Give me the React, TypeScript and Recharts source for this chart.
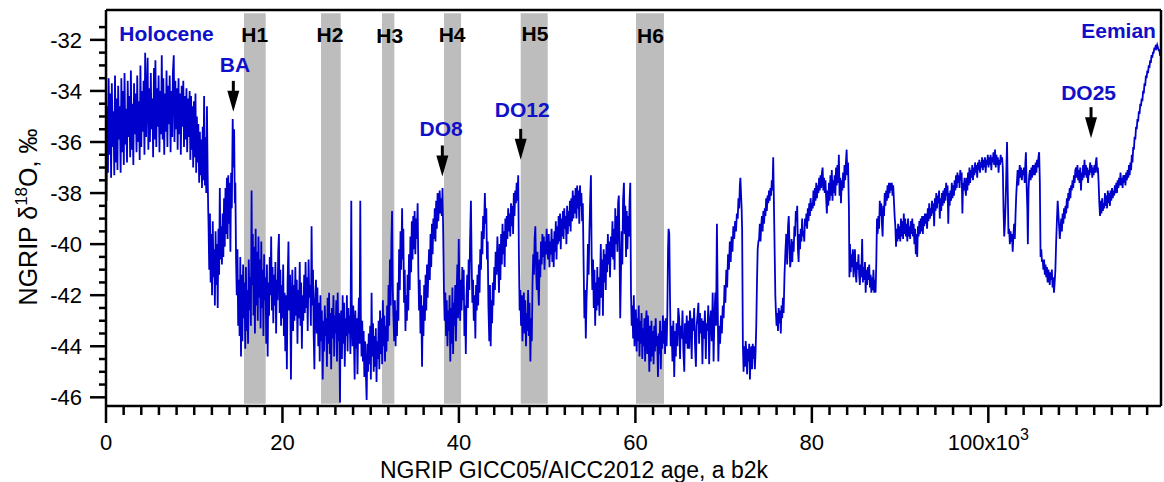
import React from 'react';
import { LineChart, Line, XAxis, YAxis, ReferenceArea, ReferenceLine, ReferenceDot } from 'recharts';

const FONT = '"Liberation Sans", Arial, Helvetica, sans-serif';
const LINE_BLUE = '#0000cc';
const LABEL_BLUE = '#1010c8';

// NGRIP d18O, [age ka b2k, d18O permil]
const holocene: [number, number][] = [
  [0.0, -31.2], [0.06, -38.3], [0.14, -34.6], [0.22, -37.2], [0.3, -33.5], [0.4, -36.5], [0.48, -34.1], [0.58, -37.4],
  [0.66, -33.7], [0.76, -36.2], [0.84, -34.8], [0.94, -37.3], [1.02, -33.4], [1.12, -36.8], [1.2, -34.3], [1.3, -37.1],
  [1.38, -33.8], [1.48, -35.9], [1.56, -34.6], [1.66, -37.2], [1.74, -33.5], [1.84, -36.4], [1.92, -34.0], [2.02, -36.9],
  [2.1, -33.3], [2.2, -36.1], [2.28, -34.7], [2.38, -36.8], [2.46, -33.6], [2.56, -35.8], [2.64, -34.2], [2.74, -36.6],
  [2.82, -33.2], [2.92, -36.3], [3.0, -34.5], [3.1, -36.9], [3.18, -33.7], [3.28, -35.7], [3.36, -34.1], [3.46, -36.4],
  [3.54, -33.4], [3.64, -36.0], [3.72, -34.4], [3.82, -36.7], [3.9, -33.0], [4.0, -36.2], [4.08, -34.0], [4.18, -35.6],
  [4.26, -33.6], [4.36, -36.5], [4.44, -32.5], [4.54, -35.8], [4.62, -34.2], [4.72, -32.7], [4.8, -36.3], [4.9, -33.9],
  [4.98, -36.0], [5.08, -33.3], [5.16, -35.5], [5.26, -34.3], [5.34, -36.6], [5.44, -33.1], [5.52, -35.9], [5.6, -32.8],
  [5.7, -36.2], [5.78, -33.9], [5.88, -35.4], [5.96, -33.4], [6.06, -36.4], [6.14, -34.0], [6.24, -35.7], [6.32, -32.6],
  [6.42, -35.9], [6.5, -33.5], [6.6, -36.5], [6.68, -34.1], [6.78, -35.6], [6.86, -33.2], [6.96, -36.2], [7.04, -33.8],
  [7.14, -35.3], [7.22, -33.4], [7.32, -36.4], [7.4, -34.0], [7.5, -35.8], [7.58, -33.3], [7.68, -32.6], [7.76, -36.0],
  [7.86, -33.6], [7.94, -35.5], [8.04, -33.9], [8.12, -36.3], [8.22, -33.5], [8.3, -35.7], [8.4, -34.1], [8.48, -36.5],
  [8.58, -33.8], [8.66, -35.4], [8.76, -33.6], [8.84, -36.2], [8.94, -34.2], [9.02, -35.9], [9.12, -33.9], [9.2, -36.4],
  [9.3, -34.3], [9.38, -35.8],
];

const deglacial: [number, number][] = [
  [9.48, -34.0], [9.56, -36.7], [9.64, -34.2], [9.72, -36.3], [9.8, -34.6], [9.88, -37.0], [9.96, -34.4], [10.06, -36.6],
  [10.14, -34.1], [10.22, -37.2], [10.3, -35.0], [10.38, -36.8], [10.46, -35.3], [10.56, -37.6], [10.64, -35.6], [10.72, -37.3],
  [10.8, -35.9], [10.88, -37.8], [10.96, -35.4], [11.04, -37.5], [11.12, -34.2], [11.2, -37.7], [11.28, -35.8], [11.36, -38.0],
  [11.44, -34.6], [11.52, -37.2], [11.58, -38.6],
  [11.62, -39.2], [11.7, -41.0], [11.78, -38.8], [11.86, -41.5], [11.94, -39.6], [12.02, -42.0], [12.1, -39.1], [12.18, -41.3],
  [12.26, -40.2], [12.34, -42.4], [12.42, -39.5], [12.5, -41.6], [12.58, -40.0], [12.66, -42.5], [12.74, -39.4], [12.82, -41.2],
  [12.9, -37.8], [12.98, -40.6], [13.06, -39.3], [13.14, -40.8], [13.22, -38.8], [13.3, -40.5], [13.38, -38.2], [13.46, -40.1],
  [13.54, -37.8], [13.62, -39.6], [13.7, -37.4], [13.78, -39.8], [13.86, -37.3], [13.94, -39.2], [14.02, -37.6], [14.1, -40.3],
  [14.18, -37.2], [14.26, -38.6], [14.36, -35.1], [14.44, -37.0], [14.52, -35.5], [14.6, -38.4], [14.66, -37.6], [14.74, -40.6],
  [14.82, -42.0], [14.9, -40.2], [14.98, -43.2], [15.06, -41.4], [15.14, -43.6], [15.22, -40.5], [15.3, -44.4],
];

const mis2: [number, number][] = [
  [15.38, -41.2], [15.46, -43.8], [15.54, -40.8], [15.62, -42.9], [15.7, -41.5], [15.78, -44.1], [15.86, -40.9], [15.94, -43.4],
  [16.02, -41.8], [16.1, -43.9], [16.18, -40.6], [16.26, -42.6], [16.34, -41.3], [16.42, -43.2], [16.5, -37.9], [16.56, -41.6],
  [16.64, -39.6], [16.72, -42.8], [16.8, -40.1], [16.88, -43.5], [16.96, -39.4], [17.04, -42.4], [17.12, -40.3], [17.2, -43.0],
  [17.28, -39.7], [17.36, -42.1], [17.44, -40.6], [17.52, -43.3], [17.6, -39.9], [17.68, -42.5], [17.76, -41.0], [17.84, -43.6],
  [17.92, -40.4], [18.0, -42.2], [18.08, -41.3], [18.16, -43.9], [18.24, -40.8], [18.32, -44.4], [18.4, -41.5], [18.48, -42.8],
  [18.56, -40.5], [18.64, -42.0], [18.72, -39.7], [18.8, -42.6], [18.88, -40.9], [18.96, -43.1], [19.04, -41.2], [19.12, -42.4],
  [19.2, -40.7], [19.28, -43.5], [19.36, -41.4], [19.44, -42.2], [19.52, -40.3], [19.6, -39.6], [19.68, -42.7], [19.76, -41.0],
  [19.84, -43.2], [19.92, -41.6], [20.0, -42.9], [20.08, -40.8], [20.16, -43.6], [20.24, -41.9], [20.32, -44.2],
  [20.4, -42.0], [20.5, -44.9], [20.58, -41.5], [20.68, -39.9], [20.76, -42.6], [20.86, -41.2], [20.96, -45.3], [21.04, -42.3],
  [21.12, -41.0], [21.2, -43.4], [21.28, -41.6], [21.36, -43.0], [21.46, -40.9], [21.54, -42.8], [21.62, -41.4], [21.7, -43.9],
  [21.78, -41.8], [21.86, -42.9], [21.96, -40.7], [22.04, -43.2], [22.12, -41.5], [22.2, -44.1], [22.28, -42.0], [22.36, -43.0],
  [22.46, -41.2], [22.54, -42.7], [22.62, -40.7], [22.7, -42.5], [22.78, -41.3], [22.86, -43.4], [22.96, -40.6], [23.04, -42.1],
  [23.14, -41.6], [23.22, -43.2], [23.3, -39.3], [23.38, -42.4], [23.46, -41.0], [23.54, -43.6], [23.62, -44.9], [23.7, -42.2],
  [23.8, -41.4], [23.88, -43.5], [23.96, -41.7], [24.06, -44.0],
  [24.14, -42.3], [24.22, -44.6], [24.3, -42.0], [24.38, -43.8], [24.46, -42.6], [24.56, -45.3], [24.64, -43.0], [24.72, -44.2],
  [24.8, -42.4], [24.88, -43.6], [24.96, -42.9], [25.04, -44.8], [25.12, -42.1], [25.2, -43.9], [25.28, -41.9], [25.36, -44.3],
  [25.44, -42.7], [25.52, -44.9], [25.6, -42.5], [25.68, -43.7], [25.78, -42.0], [25.86, -44.4], [25.94, -42.8], [26.02, -43.5],
  [26.1, -42.2], [26.18, -44.6], [26.26, -41.9], [26.34, -43.8], [26.42, -42.7], [26.52, -46.2], [26.58, -43.1],
  [26.66, -42.6], [26.74, -44.5], [26.82, -42.0], [26.9, -43.9], [26.98, -42.3], [27.06, -44.8], [27.14, -42.9], [27.22, -43.6],
  [27.3, -42.0], [27.38, -44.2], [27.46, -42.5], [27.54, -43.5], [27.62, -42.8], [27.7, -44.3], [27.8, -38.3], [27.86, -42.7],
  [27.94, -44.0], [28.02, -42.4], [28.1, -43.7], [28.18, -45.3], [28.26, -42.6], [28.34, -44.1], [28.42, -42.9], [28.5, -45.1],
  [28.58, -43.3], [28.66, -42.1], [28.74, -43.9], [28.82, -38.3], [28.88, -42.8], [28.96, -44.4], [29.04, -43.0],
];

const mis3Late: [number, number][] = [
  [29.12, -44.6], [29.2, -43.4], [29.28, -45.2], [29.36, -43.8], [29.44, -44.9], [29.54, -46.1], [29.62, -43.9], [29.7, -45.0],
  [29.78, -43.5], [29.86, -44.7], [29.94, -43.2], [30.02, -45.3], [30.1, -41.9], [30.18, -44.4], [30.26, -43.1], [30.34, -45.0],
  [30.42, -43.6], [30.5, -44.8], [30.58, -43.3], [30.66, -45.4], [30.74, -43.8], [30.82, -44.5], [30.9, -43.0], [30.98, -44.9],
  [31.06, -42.6], [31.14, -44.3], [31.22, -42.9], [31.3, -44.7], [31.38, -42.2],
  [31.46, -44.0], [31.54, -42.8], [31.62, -44.6], [31.7, -43.2], [31.78, -44.2], [31.86, -42.4], [31.94, -43.8], [32.02, -41.6],
  [32.1, -43.2], [32.18, -40.6], [32.26, -42.4], [32.34, -40.0], [32.42, -38.7], [32.5, -41.8], [32.58, -42.9], [32.66, -43.8],
  [32.74, -42.2], [32.82, -44.0], [32.9, -42.6], [32.98, -43.6], [33.06, -41.5], [33.14, -43.0], [33.22, -40.2], [33.3, -41.8],
  [33.38, -39.5], [33.46, -41.0], [33.56, -38.6], [33.62, -40.6], [33.7, -39.4], [33.78, -42.3], [33.86, -41.0], [33.94, -43.4],
  [34.02, -42.0], [34.1, -43.0], [34.18, -41.2], [34.26, -42.6], [34.34, -40.4], [34.42, -41.8], [34.5, -39.7], [34.58, -41.1],
  [34.66, -39.1], [34.74, -40.6], [34.82, -38.9], [34.9, -40.2], [34.98, -38.7], [35.06, -40.4], [35.14, -39.0], [35.22, -39.8],
  [35.32, -38.4],
  [35.4, -41.0], [35.48, -42.6], [35.56, -41.4], [35.64, -43.5], [35.72, -42.0], [35.82, -44.8], [35.9, -42.4], [35.98, -43.6],
  [36.06, -41.6], [36.14, -43.0], [36.22, -41.2], [36.3, -42.6], [36.38, -40.8], [36.46, -42.1], [36.54, -41.0], [36.62, -40.2],
  [36.7, -41.4], [36.78, -39.6], [36.86, -40.9], [36.94, -39.2], [37.02, -40.4], [37.1, -39.0], [37.18, -39.8], [37.26, -38.6],
  [37.34, -39.9], [37.42, -38.3], [37.5, -39.4], [37.58, -38.0], [37.66, -39.1], [37.74, -38.4], [37.82, -37.9], [37.9, -38.8],
  [37.98, -38.2], [38.06, -38.9], [38.14, -37.8],
  [38.22, -39.6], [38.3, -41.8], [38.38, -43.0], [38.46, -41.9], [38.54, -43.6], [38.62, -42.2], [38.7, -44.0], [38.78, -42.6],
  [38.86, -43.4], [38.94, -42.0], [39.02, -44.6], [39.1, -42.5], [39.18, -43.9], [39.26, -41.7], [39.34, -44.3], [39.42, -42.3],
  [39.5, -43.2], [39.58, -41.6], [39.66, -43.8], [39.74, -42.0], [39.82, -40.8], [39.9, -42.9], [39.98, -39.8], [40.06, -41.9],
  [40.14, -43.0], [40.22, -41.4], [40.3, -42.6], [40.38, -40.9], [40.46, -42.2], [40.54, -41.0], [40.62, -43.6], [40.7, -42.4],
  [40.78, -44.3],
];

const mis3Mid: [number, number][] = [
  [40.86, -42.0], [40.94, -41.2], [41.02, -42.5], [41.1, -40.6], [41.18, -41.8], [41.26, -39.9], [41.36, -38.3], [41.44, -40.7],
  [41.52, -42.3], [41.6, -41.4], [41.68, -43.0], [41.78, -42.0], [41.86, -43.7], [41.94, -41.6], [42.02, -42.6], [42.1, -41.2],
  [42.18, -42.4], [42.26, -40.8], [42.34, -41.9], [42.42, -40.2], [42.5, -41.0], [42.58, -39.5], [42.66, -40.4], [42.74, -38.9],
  [42.82, -39.8], [42.94, -38.0], [43.02, -39.2], [43.1, -38.6], [43.18, -40.6], [43.26, -39.9], [43.34, -42.4], [43.44, -43.8],
  [43.52, -41.6], [43.6, -44.0], [43.68, -42.2], [43.76, -43.1], [43.84, -41.5], [43.92, -42.4], [44.0, -40.9], [44.08, -41.8],
  [44.16, -40.3], [44.26, -41.2], [44.36, -39.7], [44.46, -40.8],
  [44.54, -41.9], [44.62, -40.0], [44.7, -41.4], [44.78, -39.6], [44.86, -40.8], [44.94, -39.2], [45.02, -40.4], [45.1, -39.5],
  [45.18, -40.9], [45.26, -39.0], [45.34, -40.1], [45.42, -38.9], [45.5, -39.8], [45.58, -38.6], [45.66, -39.5], [45.74, -38.8],
  [45.82, -39.7], [45.9, -38.4], [45.98, -39.3], [46.06, -38.5], [46.14, -39.6], [46.22, -38.0], [46.3, -38.9], [46.38, -37.9],
  [46.46, -38.4], [46.54, -37.6], [46.62, -38.3], [46.72, -37.3],
  [46.8, -40.5], [46.88, -42.6], [46.96, -41.8], [47.04, -43.2], [47.12, -42.0], [47.2, -43.8], [47.28, -42.4], [47.36, -41.9],
  [47.44, -43.5], [47.52, -42.2], [47.6, -44.0], [47.68, -42.7], [47.76, -43.4], [47.84, -41.8], [47.92, -43.6], [48.0, -42.3],
  [48.1, -44.6], [48.18, -42.9], [48.26, -43.8], [48.34, -41.5], [48.42, -40.4], [48.5, -41.2], [48.58, -39.8], [48.66, -39.3],
  [48.74, -40.9], [48.82, -41.8], [48.9, -40.3], [48.98, -41.6], [49.06, -42.4], [49.14, -40.6], [49.22, -41.3], [49.3, -39.9],
  [49.38, -40.8], [49.46, -39.6], [49.54, -40.5], [49.62, -39.7], [49.7, -41.0], [49.78, -39.9], [49.86, -40.4], [49.94, -39.4],
  [50.02, -40.2],
];

const mis3Early: [number, number][] = [
  [50.1, -40.6], [50.18, -39.6], [50.26, -40.9], [50.34, -39.9], [50.42, -40.4], [50.5, -39.4], [50.58, -40.7], [50.66, -39.8],
  [50.74, -40.9], [50.82, -39.5], [50.9, -40.3], [50.98, -39.1], [51.06, -40.6], [51.14, -39.3], [51.22, -40.0], [51.3, -38.9],
  [51.38, -39.9], [51.46, -38.8], [51.54, -40.2], [51.62, -39.0], [51.7, -39.7], [51.78, -38.7], [51.86, -39.8], [51.94, -38.6],
  [52.02, -39.4], [52.1, -38.9], [52.18, -40.0], [52.26, -38.5], [52.34, -39.6], [52.42, -38.7], [52.5, -39.3], [52.58, -38.3],
  [52.66, -39.5], [52.74, -38.2], [52.82, -39.1], [52.9, -37.9], [52.98, -39.0], [53.06, -38.1], [53.14, -38.8], [53.22, -37.8],
  [53.32, -39.0], [53.4, -37.7], [53.48, -38.6], [53.56, -37.9], [53.64, -39.2], [53.72, -37.7], [53.8, -38.5], [53.88, -38.0],
  [53.96, -39.1], [54.04, -38.4],
  [54.14, -41.0], [54.22, -42.9], [54.3, -41.8], [54.38, -43.7], [54.46, -42.2], [54.54, -41.4], [54.62, -40.0], [54.7, -41.2],
  [54.78, -39.6], [54.88, -38.2], [54.96, -37.3], [55.04, -40.4], [55.12, -41.8], [55.2, -40.6], [55.28, -42.5], [55.36, -41.0],
  [55.44, -43.2], [55.52, -41.5], [55.6, -42.6], [55.68, -40.9], [55.76, -42.4], [55.84, -41.3], [55.92, -42.8],
  [56.0, -41.4], [56.08, -40.0], [56.16, -42.1], [56.24, -40.6], [56.32, -42.8], [56.4, -40.2], [56.48, -41.5], [56.56, -40.4],
  [56.64, -41.8], [56.72, -40.0], [56.8, -41.1], [56.88, -39.6], [56.96, -40.8], [57.04, -39.9], [57.12, -41.3], [57.22, -39.7],
  [57.3, -40.5], [57.4, -39.1], [57.48, -40.6], [57.56, -39.4], [57.64, -41.0], [57.72, -38.6], [57.8, -40.0], [57.88, -38.9],
  [57.96, -40.3], [58.04, -38.4], [58.12, -38.1], [58.2, -40.2], [58.28, -42.9], [58.36, -41.2], [58.44, -39.5], [58.52, -40.8],
  [58.6, -38.3], [58.7, -37.6], [58.78, -39.6], [58.86, -38.5], [58.94, -40.5], [59.02, -38.7], [59.1, -40.2], [59.18, -38.9],
  [59.26, -39.7], [59.34, -38.3], [59.42, -37.6], [59.5, -41.9], [59.58, -43.2], [59.66, -42.4], [59.74, -43.7], [59.82, -42.0],
  [59.9, -44.0], [59.98, -42.6],
];

const mis4: [number, number][] = [
  [60.06, -42.6], [60.14, -44.2], [60.22, -42.9], [60.3, -43.8], [60.38, -42.4], [60.46, -44.4], [60.54, -43.0], [60.62, -43.9],
  [60.7, -42.7], [60.78, -44.5], [60.86, -43.3], [60.94, -44.0], [61.02, -42.9], [61.1, -44.6], [61.18, -43.1], [61.26, -42.6],
  [61.34, -44.3], [61.42, -42.8], [61.5, -43.8], [61.58, -45.0], [61.66, -43.2], [61.74, -44.6], [61.82, -43.0], [61.9, -44.4],
  [61.98, -43.4], [62.06, -44.7], [62.14, -43.2], [62.22, -44.2], [62.3, -42.9], [62.38, -44.0], [62.46, -43.6], [62.56, -45.2],
  [62.64, -43.5], [62.72, -44.3], [62.8, -43.0], [62.88, -44.9], [62.96, -43.4], [63.04, -44.1], [63.12, -42.8], [63.2, -43.9],
  [63.28, -43.0], [63.36, -44.3], [63.44, -42.9], [63.54, -44.0], [63.62, -42.7], [63.7, -40.2], [63.76, -39.4], [63.84, -39.6],
  [63.92, -42.0], [64.0, -44.0], [64.1, -43.2], [64.2, -44.6], [64.3, -43.0], [64.4, -45.2], [64.5, -43.4], [64.58, -44.4],
  [64.66, -43.1], [64.76, -44.0], [64.86, -42.5], [64.96, -42.9], [65.06, -44.5], [65.14, -43.2], [65.24, -43.7], [65.34, -42.6],
  [65.44, -44.2], [65.54, -45.0], [65.62, -43.1], [65.72, -43.9], [65.82, -42.8], [65.92, -44.1], [66.0, -43.0], [66.1, -44.1],
  [66.18, -42.6], [66.28, -43.1], [66.38, -44.5], [66.46, -42.9], [66.56, -43.4], [66.66, -42.5], [66.76, -44.0], [66.86, -44.8],
  [66.94, -43.2], [67.04, -42.8], [67.14, -42.3], [67.22, -43.9], [67.32, -42.7], [67.4, -43.5], [67.5, -42.9], [67.6, -44.7],
  [67.68, -43.0], [67.78, -43.7], [67.88, -42.6], [67.98, -44.5], [68.06, -43.1], [68.16, -43.4], [68.26, -42.4], [68.36, -44.7],
  [68.46, -43.0], [68.56, -42.6], [68.66, -43.8], [68.76, -41.9], [68.86, -44.6], [68.96, -42.8], [69.06, -41.9], [69.14, -43.2],
  [69.24, -39.2], [69.32, -42.0], [69.4, -44.6],
  [69.5, -43.2], [69.6, -43.9], [69.7, -42.8], [69.8, -43.5], [69.9, -42.4], [70.0, -42.9], [70.1, -41.6], [70.2, -42.3],
  [70.3, -41.0], [70.4, -41.7], [70.5, -40.4], [70.6, -41.0], [70.7, -39.9], [70.8, -40.7], [70.9, -39.7], [71.0, -40.3],
  [71.1, -39.3], [71.2, -39.8], [71.3, -39.1], [71.4, -39.5], [71.5, -38.8], [71.6, -39.0], [71.68, -38.2], [71.76, -38.6],
  [71.84, -37.7], [71.9, -37.4], [71.98, -38.1], [72.04, -38.6], [72.1, -39.5],
];

const mis5a: [number, number][] = [
  [72.18, -43.9], [72.26, -45.0], [72.34, -44.0], [72.42, -44.8], [72.5, -43.8], [72.58, -44.3], [72.66, -45.1], [72.74, -44.1],
  [72.82, -44.6], [72.9, -43.9], [72.98, -45.3], [73.06, -44.4], [73.14, -44.0], [73.22, -44.9], [73.3, -43.9], [73.38, -44.5],
  [73.46, -44.0], [73.54, -44.9], [73.62, -44.2], [73.7, -43.2], [73.78, -41.5], [73.86, -40.2], [73.94, -39.9],
  [74.02, -39.8], [74.1, -39.2], [74.18, -39.9], [74.26, -39.3], [74.34, -38.9], [74.42, -39.5], [74.5, -38.7], [74.58, -39.2],
  [74.66, -38.6], [74.74, -38.9], [74.82, -38.2], [74.9, -38.7], [74.98, -38.1], [75.06, -38.4], [75.14, -37.9], [75.22, -38.3],
  [75.3, -37.8], [75.38, -38.1], [75.46, -37.5], [75.54, -37.9], [75.62, -36.6], [75.7, -38.4], [75.78, -40.2],
  [75.86, -42.0], [75.92, -42.6], [76.0, -43.2], [76.08, -42.7], [76.16, -43.4], [76.24, -42.5], [76.32, -43.1], [76.4, -42.6],
  [76.48, -43.5], [76.56, -42.4], [76.64, -42.9], [76.72, -42.1], [76.8, -42.7], [76.9, -41.2], [77.0, -40.3], [77.1, -39.6],
  [77.2, -40.8], [77.3, -39.3], [77.38, -38.9], [77.46, -40.0], [77.54, -40.9],
  [77.62, -40.6], [77.7, -39.8], [77.78, -40.7], [77.86, -39.9], [77.94, -40.3], [78.02, -39.3], [78.1, -39.7], [78.18, -38.7],
  [78.26, -39.1], [78.34, -38.5], [78.42, -40.2], [78.5, -40.7], [78.58, -39.6], [78.66, -40.2], [78.74, -39.4], [78.82, -39.9],
  [78.9, -39.0], [78.98, -39.7], [79.06, -39.5], [79.14, -39.9], [79.22, -39.0], [79.3, -39.3], [79.38, -38.8], [79.46, -39.4],
  [79.54, -38.6], [79.62, -39.1], [79.7, -38.4], [79.78, -38.9], [79.86, -38.2], [79.94, -38.7], [80.02, -38.4], [80.1, -38.6],
  [80.18, -37.9], [80.26, -38.5], [80.34, -37.8], [80.42, -38.3], [80.5, -37.6], [80.58, -38.2], [80.66, -37.7], [80.74, -38.0],
  [80.82, -37.4], [80.9, -37.9], [80.98, -37.3], [81.06, -37.8], [81.14, -37.2], [81.22, -37.0], [81.3, -37.9], [81.38, -37.4],
  [81.46, -38.0], [81.54, -37.5],
  [81.62, -38.2], [81.7, -38.8], [81.78, -37.9], [81.86, -38.5], [81.94, -37.6], [82.02, -38.3], [82.1, -37.3], [82.18, -38.1],
  [82.26, -37.1], [82.34, -38.3], [82.42, -37.5], [82.5, -38.0], [82.58, -37.3], [82.66, -38.1], [82.74, -37.0], [82.82, -37.7],
  [82.9, -36.9], [82.98, -37.6], [83.06, -36.5], [83.14, -38.1], [83.22, -37.4], [83.3, -38.4], [83.38, -37.5], [83.46, -37.9],
  [83.54, -37.2], [83.62, -37.8], [83.7, -36.9], [83.78, -37.5], [83.86, -36.8], [83.94, -36.3], [84.02, -37.3], [84.1, -36.8],
];

const mis5b: [number, number][] = [
  [84.2, -38.6], [84.26, -41.3], [84.32, -40.0], [84.4, -41.1], [84.48, -40.4], [84.56, -40.9], [84.64, -40.2], [84.72, -41.3],
  [84.8, -40.6], [84.88, -40.2], [84.96, -41.1], [85.04, -41.5], [85.12, -40.7], [85.2, -41.0], [85.28, -40.4], [85.36, -41.2],
  [85.44, -41.6], [85.52, -40.8], [85.6, -41.3], [85.7, -39.8], [85.78, -41.5], [85.86, -40.9], [85.94, -41.4], [86.02, -40.7],
  [86.1, -41.9], [86.18, -41.0], [86.26, -41.6], [86.34, -40.9], [86.42, -41.4], [86.5, -40.8], [86.58, -41.7], [86.66, -41.2],
  [86.74, -41.9], [86.82, -41.3], [86.9, -41.8], [86.98, -41.0], [87.06, -41.9], [87.14, -41.4], [87.22, -41.9],
  [87.3, -40.8], [87.38, -39.0], [87.46, -39.6], [87.54, -38.9], [87.62, -39.4], [87.7, -38.3], [87.78, -38.9], [87.86, -38.4],
  [87.94, -39.2], [88.02, -39.7], [88.1, -38.5], [88.18, -38.9], [88.26, -38.0], [88.34, -38.5], [88.42, -37.9], [88.5, -38.3],
  [88.58, -37.7], [88.66, -38.2], [88.74, -37.6], [88.82, -38.0], [88.9, -37.6], [88.98, -37.9], [89.06, -37.6], [89.14, -38.1],
  [89.22, -37.7], [89.3, -38.3], [89.38, -38.9], [89.46, -39.3],
  [89.54, -40.1], [89.62, -39.4], [89.7, -39.9], [89.78, -39.2], [89.86, -39.8], [89.94, -39.3], [90.02, -39.9], [90.1, -39.0],
  [90.18, -39.7], [90.26, -39.1], [90.34, -39.8], [90.42, -38.8], [90.5, -39.6], [90.58, -39.0], [90.66, -39.7], [90.74, -39.2],
  [90.82, -39.9], [90.9, -39.0], [90.98, -39.7], [91.06, -39.3], [91.14, -39.8], [91.22, -39.1], [91.3, -39.6], [91.38, -39.0],
  [91.46, -39.7], [91.54, -39.2], [91.62, -40.0], [91.7, -39.4], [91.78, -40.4], [91.86, -39.6], [91.94, -40.5], [92.02, -39.3],
  [92.1, -39.7], [92.18, -39.1], [92.26, -39.6], [92.34, -39.0], [92.42, -39.5], [92.5, -38.9], [92.58, -39.6], [92.66, -38.9],
  [92.74, -39.3], [92.82, -38.8], [92.9, -39.2],
  [92.98, -38.8], [93.06, -39.4], [93.14, -38.6], [93.22, -39.1], [93.3, -38.4], [93.38, -39.0], [93.46, -38.6], [93.54, -38.9],
  [93.62, -38.3], [93.7, -38.8], [93.78, -38.4], [93.86, -39.3], [93.94, -38.2], [94.02, -38.7], [94.1, -38.0], [94.18, -38.6],
  [94.26, -38.1], [94.34, -38.4], [94.42, -37.9], [94.5, -39.0], [94.58, -38.2], [94.66, -38.7], [94.74, -38.0], [94.82, -38.5],
  [94.9, -37.9], [94.98, -38.4], [95.06, -37.8], [95.14, -38.3], [95.22, -37.6], [95.3, -38.1], [95.38, -37.7], [95.46, -39.2],
  [95.54, -38.0], [95.62, -38.5], [95.7, -37.9], [95.78, -38.3], [95.86, -37.6], [95.94, -38.2], [96.02, -37.7], [96.1, -38.1],
  [96.18, -37.5], [96.26, -37.9], [96.34, -37.3], [96.42, -37.8], [96.5, -37.2], [96.58, -37.6], [96.66, -37.3], [96.74, -37.8],
  [96.82, -37.1], [96.9, -37.5], [96.98, -37.2], [97.06, -38.8], [97.14, -37.6], [97.22, -37.9], [97.3, -37.4], [97.38, -37.8],
];

const mis5c: [number, number][] = [
  [97.46, -38.1], [97.54, -37.4], [97.62, -37.9], [97.7, -37.2], [97.78, -37.7], [97.86, -37.0], [97.94, -37.6], [98.02, -37.1],
  [98.1, -37.4], [98.18, -36.9], [98.26, -37.5], [98.34, -37.0], [98.42, -37.3], [98.5, -36.8], [98.58, -37.2], [98.66, -36.9],
  [98.74, -37.4], [98.82, -36.8], [98.9, -37.1], [98.98, -36.7], [99.06, -37.2], [99.14, -36.8], [99.22, -37.0], [99.3, -36.6],
  [99.38, -37.1], [99.46, -36.7], [99.54, -37.0], [99.62, -36.6], [99.7, -37.2], [99.78, -36.7], [99.86, -36.9], [99.94, -36.5],
  [100.02, -37.0], [100.1, -36.6], [100.18, -36.9], [100.26, -36.5], [100.34, -37.1], [100.42, -36.6], [100.5, -36.8], [100.58, -36.4],
  [100.66, -36.9], [100.76, -36.3], [100.84, -37.0], [100.92, -36.5], [101.0, -36.9], [101.08, -36.6], [101.16, -37.2], [101.24, -36.7],
  [101.32, -36.9], [101.4, -36.5], [101.48, -36.8], [101.56, -36.6],
  [101.64, -37.0], [101.72, -38.6], [101.8, -39.7], [101.88, -39.2], [101.96, -38.4], [102.04, -37.2], [102.12, -36.0], [102.2, -37.8],
  [102.28, -39.6], [102.36, -39.4], [102.44, -40.0], [102.52, -39.5], [102.6, -39.9], [102.68, -39.6], [102.76, -40.3], [102.84, -39.7],
  [102.92, -39.2], [103.0, -39.8], [103.08, -38.9], [103.16, -38.1], [103.24, -37.6], [103.32, -37.1], [103.4, -37.7], [103.48, -37.3],
  [103.56, -36.9], [103.64, -37.4], [103.72, -37.0], [103.8, -37.5], [103.88, -37.1], [103.96, -37.3], [104.04, -37.0], [104.12, -37.6],
  [104.2, -36.8], [104.26, -36.4], [104.34, -37.7], [104.42, -38.6], [104.48, -40.0], [104.56, -37.8], [104.64, -37.3], [104.72, -37.1],
  [104.8, -37.5], [104.88, -37.0], [104.96, -37.4], [105.04, -36.9], [105.12, -37.3], [105.2, -36.9], [105.28, -37.3], [105.36, -36.8],
  [105.44, -37.2], [105.52, -36.7], [105.6, -37.0], [105.68, -36.6], [105.76, -36.4], [105.84, -37.6], [105.92, -40.5], [106.0, -40.2],
  [106.08, -40.7], [106.16, -40.6], [106.24, -41.0], [106.32, -40.6], [106.4, -41.2], [106.48, -40.8], [106.56, -41.3], [106.64, -40.9],
  [106.72, -41.5], [106.8, -41.0], [106.88, -41.2], [106.96, -41.6], [107.04, -41.1], [107.12, -41.4], [107.2, -41.0], [107.28, -41.7],
  [107.36, -41.3], [107.44, -41.9], [107.52, -41.5], [107.6, -41.0], [107.68, -40.0], [107.76, -39.2], [107.86, -38.3], [107.94, -38.8],
  [108.02, -39.3], [108.1, -39.8], [108.18, -39.4], [108.26, -39.0], [108.34, -39.5], [108.42, -38.8], [108.5, -39.2], [108.58, -38.6],
  [108.66, -39.0], [108.74, -38.5], [108.82, -38.8], [108.9, -38.2], [108.98, -38.6], [109.06, -38.0], [109.14, -38.3], [109.22, -37.8],
  [109.3, -38.2], [109.38, -37.7], [109.46, -37.9], [109.54, -37.5], [109.62, -37.8], [109.7, -37.3], [109.78, -37.6], [109.86, -37.1],
  [109.94, -37.0], [110.02, -37.4],
  [110.1, -36.9], [110.18, -37.5], [110.26, -37.1], [110.34, -37.6], [110.42, -37.0], [110.5, -37.9], [110.58, -37.2], [110.66, -37.5],
  [110.74, -36.9], [110.82, -37.4], [110.9, -36.7], [110.98, -37.3], [111.06, -36.9], [111.14, -37.4], [111.22, -37.0], [111.3, -37.6],
  [111.38, -37.1], [111.46, -37.3], [111.54, -36.8], [111.62, -37.2], [111.7, -36.9], [111.78, -37.4], [111.86, -37.0], [111.94, -37.3],
  [112.02, -36.9], [112.1, -37.2], [112.18, -36.8], [112.26, -36.6], [112.34, -37.2], [112.42, -37.0], [112.5, -37.6],
];

const eemianRamp: [number, number][] = [
  [112.58, -38.4], [112.66, -38.9], [112.74, -38.3], [112.82, -38.8], [112.9, -38.2], [112.98, -38.7], [113.06, -38.4], [113.14, -38.6],
  [113.22, -38.0], [113.3, -38.5], [113.38, -38.1], [113.46, -38.6], [113.54, -37.9], [113.62, -38.4], [113.7, -38.0], [113.78, -38.5],
  [113.86, -37.9], [113.94, -38.3], [114.02, -37.8], [114.1, -38.2], [114.18, -37.9], [114.26, -38.1], [114.34, -37.7], [114.42, -38.0],
  [114.5, -37.6], [114.58, -38.0], [114.66, -37.5], [114.74, -37.8], [114.82, -37.4], [114.9, -37.7], [114.98, -37.2], [115.06, -37.7],
  [115.14, -37.4], [115.22, -37.8], [115.3, -37.3], [115.38, -37.6], [115.46, -37.3], [115.54, -37.7], [115.62, -37.2], [115.7, -37.5],
  [115.78, -37.1], [115.86, -37.4], [115.94, -36.9], [116.02, -37.3], [116.1, -36.8], [116.18, -37.1], [116.26, -36.5], [116.34, -36.8],
  [116.42, -36.2], [116.5, -36.3], [116.58, -35.8], [116.66, -35.9], [116.74, -35.4], [116.82, -35.5], [116.9, -35.1], [116.98, -35.2],
  [117.06, -34.8], [117.14, -34.9], [117.22, -34.5], [117.3, -34.6], [117.38, -34.3], [117.46, -34.4], [117.54, -34.0], [117.62, -34.1],
  [117.7, -33.7], [117.78, -33.8], [117.86, -33.4], [117.94, -33.5], [118.02, -33.2], [118.1, -33.3], [118.18, -33.0], [118.26, -33.1],
  [118.34, -32.8], [118.42, -32.9], [118.5, -32.6], [118.58, -32.7], [118.66, -32.5], [118.74, -32.5], [118.82, -32.3], [118.9, -32.4],
  [118.98, -32.2], [119.06, -32.3], [119.14, -32.2], [119.22, -32.3], [119.3, -32.4], [119.38, -32.4], [119.46, -32.6], [119.54, -32.6],
  [119.6, -32.7],
];

const data = [holocene, deglacial, mis2, mis3Late, mis3Mid, mis3Early, mis4, mis5a, mis5b, mis5c, eemianRamp]
  .flat()
  .map(([age, d18O]) => ({ age, d18O }));

// Heinrich stadials (shaded), ka
const heinrich = [
  { name: 'H1', from: 15.64, to: 18.1, labelAge: 16.85, labelY: -31.8 },
  { name: 'H2', from: 24.37, to: 26.6, labelAge: 25.39, labelY: -31.8 },
  { name: 'H3', from: 31.28, to: 32.68, labelAge: 32.15, labelY: -31.84 },
  { name: 'H4', from: 38.31, to: 40.24, labelAge: 39.23, labelY: -31.8 },
  { name: 'H5', from: 47.0, to: 50.06, labelAge: 48.62, labelY: -31.74 },
  { name: 'H6', from: 60.07, to: 63.24, labelAge: 61.71, labelY: -31.84 },
];

// events marked with an arrow
const arrowed = [
  { name: 'BA', age: 14.43, tip: -34.82, labelAge: 14.62, labelY: -32.98 },
  { name: 'DO8', age: 38.12, tip: -37.35, labelAge: 37.99, labelY: -35.46 },
  { name: 'DO12', age: 47.0, tip: -36.7, labelAge: 47.17, labelY: -34.74 },
  { name: 'DO25', age: 111.64, tip: -35.85, labelAge: 111.36, labelY: -34.05 },
];

const periods = [
  { name: 'Holocene', age: 6.86, y: -31.73 },
  { name: 'Eemian', age: 114.76, y: -31.65 },
];

const X_DOMAIN: [number, number] = [0, 119.57];
const Y_DOMAIN: [number, number] = [-46.34, -30.83];
const BAND_Y: [number, number] = [-46.25, -30.955];

const xMajorTicks = [0, 20, 40, 60, 80, 100];
const xTicks = [
  0, 2, 4, 6, 8, 10, 12, 14, 16, 18, 20, 22, 24, 26, 28, 30, 32, 34, 36, 38, 40, 42, 44, 46, 48, 50, 52, 54, 56, 58,
  60, 62, 64, 66, 68, 70, 72, 74, 76, 78, 80, 82, 84, 86, 88, 90, 92, 94, 96, 98, 100, 102, 104, 106, 108, 110, 112, 114, 116, 118,
];
const yMajorTicks = [-46, -44, -42, -40, -38, -36, -34, -32];
const yTicks = [
  -46, -45.5, -45, -44.5, -44, -43.5, -43, -42.5, -42, -41.5, -41, -40.5, -40, -39.5, -39, -38.5, -38, -37.5, -37,
  -36.5, -36, -35.5, -35, -34.5, -34, -33.5, -33, -32.5, -32, -31.5,
];

const renderXTick = (props: any) => {
  const { x, y, payload } = props;
  const v = payload.value;
  const major = xMajorTicks.includes(v);
  return (
    <g>
      <line x1={x} x2={x} y1={y} y2={y + (major ? 17 : 9)} stroke="#000" strokeWidth={2.5} />
      {major && (
        <text x={x} y={y + 44} textAnchor="middle" fontSize={22} fontFamily={FONT} fill="#000">
          {v === 100 ? (
            <>
              100x10<tspan dy={-10} fontSize={16}>3</tspan>
            </>
          ) : (
            v
          )}
        </text>
      )}
    </g>
  );
};

const renderYTick = (props: any) => {
  const { x, y, payload } = props;
  const v = payload.value;
  const major = yMajorTicks.includes(v);
  return (
    <g>
      <line x1={x - (major ? 16 : 7)} x2={x} y1={y} y2={y} stroke="#000" strokeWidth={2.5} />
      {major && (
        <text x={x - 24} y={y} dy="0.36em" textAnchor="end" fontSize={22} fontFamily={FONT} fill="#000">
          {v}
        </text>
      )}
    </g>
  );
};

const labelShape = (text: string, color: string, size: number) => (props: any) => (
  <text
    x={props.cx}
    y={props.cy}
    dy="0.36em"
    textAnchor="middle"
    fontSize={size}
    fontWeight={700}
    fontFamily={FONT}
    fill={color}
  >
    {text}
  </text>
);

const arrowShape = (props: any) => {
  const { cx, cy } = props;
  return (
    <g>
      <line x1={cx} x2={cx} y1={cy - 31} y2={cy - 16} stroke="#000" strokeWidth={3} />
      <polygon points={`${cx - 6},${cy - 21} ${cx + 6},${cy - 21} ${cx},${cy}`} fill="#000" />
    </g>
  );
};

export default function App() {
  return (
    <div style={{ position: 'absolute', left: 0, top: 0, background: '#fff' }}>
      <LineChart width={1164} height={482} data={data} margin={{ top: 10, right: 3, bottom: 0, left: 0 }}>
        {heinrich.map((h) => (
          <ReferenceArea
            key={h.name}
            x1={h.from}
            x2={h.to}
            y1={BAND_Y[0]}
            y2={BAND_Y[1]}
            fill="#bdbdbd"
            fillOpacity={1}
            stroke="none"
            ifOverflow="visible"
          />
        ))}
        <XAxis
          dataKey="age"
          type="number"
          domain={X_DOMAIN}
          allowDataOverflow
          ticks={xTicks}
          interval={0}
          tick={renderXTick}
          tickLine={false}
          tickSize={0}
          tickMargin={0}
          height={76}
          axisLine={{ stroke: '#000', strokeWidth: 2.5 }}
          label={{
            content: () => (
              <text x={574} y={478} textAnchor="middle" fontSize={23} fontFamily={FONT} fill="#000">
                NGRIP GICC05/AICC2012 age, a b2k
              </text>
            ),
          }}
        />
        <YAxis
          type="number"
          domain={Y_DOMAIN}
          allowDataOverflow
          ticks={yTicks}
          interval={0}
          tick={renderYTick}
          tickLine={false}
          tickSize={0}
          tickMargin={0}
          width={106}
          axisLine={{ stroke: '#000', strokeWidth: 2.5 }}
          label={{
            content: () => (
              <text
                transform="translate(37,217) rotate(-90)"
                textAnchor="middle"
                fontSize={25}
                fontFamily={FONT}
                fill="#000"
              >
                NGRIP δ<tspan dy={-10} fontSize={17}>18</tspan>
                <tspan dy={10}>O, ‰</tspan>
              </text>
            ),
          }}
        />
        <Line
          type="linear"
          dataKey="d18O"
          stroke={LINE_BLUE}
          strokeWidth={1.8}
          dot={false}
          activeDot={false}
          isAnimationActive={false}
        />
        <ReferenceLine y={Y_DOMAIN[1]} stroke="#000" strokeWidth={2.5} ifOverflow="visible" />
        <ReferenceLine x={X_DOMAIN[1]} stroke="#000" strokeWidth={2.5} ifOverflow="visible" />
        {heinrich.map((h) => (
          <ReferenceDot
            key={`l-${h.name}`}
            x={h.labelAge}
            y={h.labelY}
            r={0}
            ifOverflow="visible"
            shape={labelShape(h.name, '#000', 21)}
          />
        ))}
        {periods.map((p) => (
          <ReferenceDot
            key={p.name}
            x={p.age}
            y={p.y}
            r={0}
            ifOverflow="visible"
            shape={labelShape(p.name, LABEL_BLUE, 21)}
          />
        ))}
        {arrowed.map((a) => (
          <ReferenceDot key={`a-${a.name}`} x={a.age} y={a.tip} r={0} ifOverflow="visible" shape={arrowShape} />
        ))}
        {arrowed.map((a) => (
          <ReferenceDot
            key={`t-${a.name}`}
            x={a.labelAge}
            y={a.labelY}
            r={0}
            ifOverflow="visible"
            shape={labelShape(a.name, LABEL_BLUE, 21)}
          />
        ))}
      </LineChart>
    </div>
  );
}
